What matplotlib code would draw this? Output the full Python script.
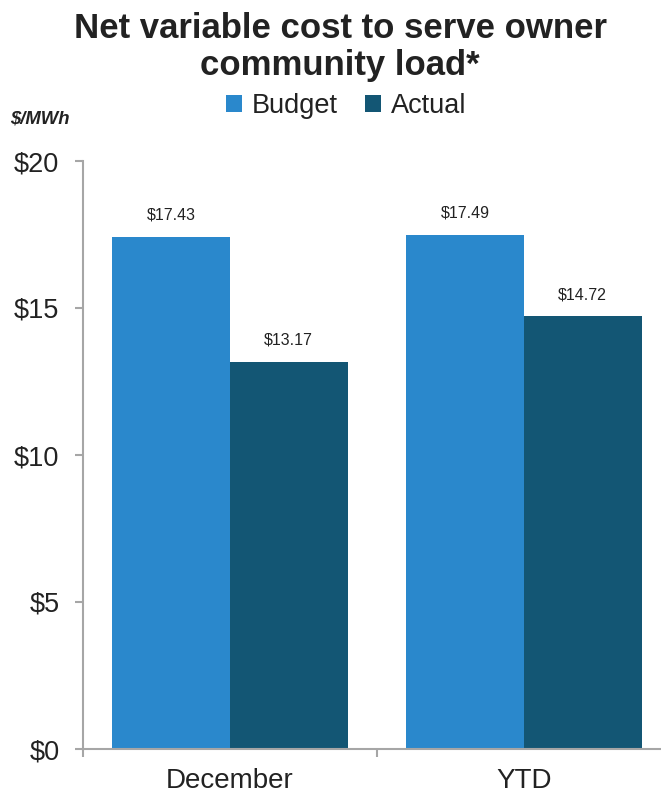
import numpy as np
import matplotlib.pyplot as plt
from matplotlib.patches import Patch

plt.rcParams['font.family'] = ['Liberation Sans', 'DejaVu Sans']

categories = ["December", "YTD"]
series = ["Budget", "Actual"]
budget = [17.43, 17.49]
actual = [13.17, 14.72]
y_ticks = [0, 5, 10, 15, 20]

colors = {"Budget": "#2A88CC", "Actual": "#135674"}
text_color = "#222222"
axis_color = "#A6A6A6"

W, H = 661, 796
fig = plt.figure(figsize=(W / 100, H / 100), dpi=100)

# axes in pixel coords: x from 83 to 671 (runs past right edge), y from 161 to 749
left, right, top, bottom = 83, 671, 161, 749
ax = fig.add_axes([left / W, 1 - bottom / H, (right - left) / W, (bottom - top) / H])

x = np.arange(len(categories))
width = 0.4
for offset, name, vals in [(-0.2, "Budget", budget), (0.2, "Actual", actual)]:
    bars = ax.bar(x + offset, vals, width, color=colors[name], edgecolor="none", zorder=2)
    for b, v in zip(bars, vals):
        ax.annotate(f"${v:.2f}", (b.get_x() + b.get_width() / 2, v),
                    xytext=(0, 10), textcoords="offset points",
                    ha="center", va="bottom", fontsize=11.5, color=text_color)

ax.set_xlim(-0.5, 1.5)
ax.set_ylim(0, 20)

ax.set_yticks(y_ticks)
ax.set_yticklabels([f"${t}" for t in y_ticks])
ax.tick_params(axis="y", length=6, width=1.5, color=axis_color, pad=11,
               labelsize=19.5, labelcolor=text_color)

ax.set_xticks(x)
ax.set_xticklabels(categories)
ax.set_xticks([-0.5, 0.5, 1.5], minor=True)
ax.tick_params(axis="x", which="major", length=0, pad=14, labelsize=20, labelcolor=text_color)
ax.tick_params(axis="x", which="minor", length=6, width=1.5, color=axis_color)

for s in ["top", "right"]:
    ax.spines[s].set_visible(False)
for s in ["left", "bottom"]:
    ax.spines[s].set_color(axis_color)
    ax.spines[s].set_linewidth(1.5)

fig.text(340 / W, 1 - 47 / H, "Net variable cost to serve owner\ncommunity load*",
         ha="center", va="center", fontsize=25, fontweight="bold",
         color=text_color, linespacing=1.15)

fig.text(10 / W, 1 - 119 / H, "$/MWh", ha="left", va="center", fontsize=13.3,
         fontweight="bold", fontstyle="italic", color=text_color)

handles = [Patch(facecolor=colors[s], edgecolor="none") for s in series]
fig.legend(handles, series, loc="center", bbox_to_anchor=(346 / W, 1 - 106 / H),
           ncol=2, frameon=False, fontsize=19.5, handlelength=0.6, handleheight=0.6,
           handletextpad=0.35, columnspacing=1.0, labelcolor=text_color,
           borderpad=0, borderaxespad=0)

fig.savefig("out.png", dpi=100)
